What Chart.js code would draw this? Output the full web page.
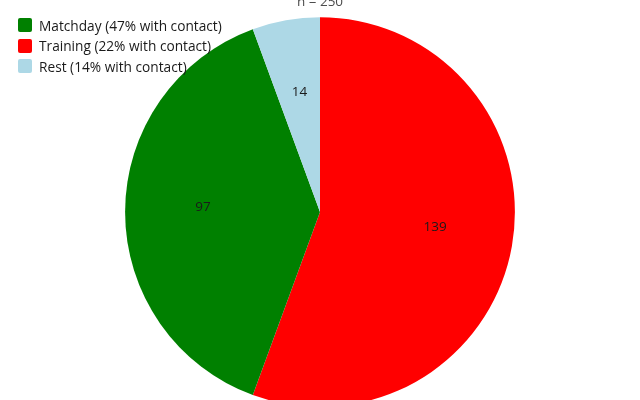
<!DOCTYPE html>
<html>
<head>
<meta charset="utf-8">
<script src="https://cdn.jsdelivr.net/npm/chart.js@4"></script>
<style>
  html, body { margin: 0; padding: 0; background: #fff; }
  #wrap { position: relative; width: 640px; height: 400px; overflow: hidden; font-family: 'Open Sans', sans-serif; }
  #box { position: absolute; left: 0; top: -6px; width: 640px; height: 413px; }
  #legend { position: absolute; left: 18px; top: 15px; font-size: 13.7px; color: #1a1a1a; }
  #legend .row { display: flex; align-items: center; height: 20.5px; }
  #legend .sw { width: 14px; height: 14px; border-radius: 2px; margin-right: 7px; }
</style>
</head>
<body>
<div id="wrap">
  <div id="box"><canvas id="grafico"></canvas></div>
  <div id="legend"></div>
</div>
<script>
// datos (orden de la leyenda)
const categorias = ['Matchday', 'Training', 'Rest']
const conteos = [97, 139, 14]
const pctContacto = [47, 22, 14]
const colores = ['#008000', '#ff0000', '#add8e6']
// orden de las porciones en el gráfico, desde las 12 en sentido horario
const ordenPie = [1, 0, 2]

const total = conteos.reduce((a, b) => a + b, 0)

// leyenda html
const legend = document.getElementById('legend')
categorias.forEach((c, i) => {
  const row = document.createElement('div')
  row.className = 'row'
  row.innerHTML = `<span class="sw" style="background:${colores[i]}"></span>${c} (${pctContacto[i]}% with contact)`
  legend.appendChild(row)
})

// etiquetas dentro de cada porción
const etiquetas = {
  id: 'etiquetas',
  afterDatasetsDraw(chart) {
    const ctx = chart.ctx
    const meta = chart.getDatasetMeta(0)
    ctx.save()
    ctx.font = "13.5px 'Open Sans', sans-serif"
    ctx.fillStyle = '#1a1a1a'
    ctx.textAlign = 'center'
    ctx.textBaseline = 'middle'
    meta.data.forEach((arc, i) => {
      const p = arc.getProps(['x', 'y', 'startAngle', 'endAngle', 'outerRadius'], true)
      const a = (p.startAngle + p.endAngle) / 2
      const r = p.outerRadius * 0.6
      ctx.fillText(String(chart.data.datasets[0].data[i]), p.x + Math.cos(a) * r, p.y + Math.sin(a) * r - 5)
    })
    ctx.restore()
  }
}

Chart.defaults.font.family = "'Open Sans', sans-serif"

new Chart(document.getElementById('grafico'), {
  type: 'pie',
  data: {
    labels: ordenPie.map(i => categorias[i]),
    datasets: [{
      data: ordenPie.map(i => conteos[i]),
      backgroundColor: ordenPie.map(i => colores[i]),
      borderWidth: 0
    }]
  },
  options: {
    responsive: true,
    maintainAspectRatio: false,
    animation: false,
    layout: { padding: 0 },
    plugins: {
      legend: { display: false },
      tooltip: { enabled: false },
      title: {
        display: true,
        text: `n = ${total}`,
        color: '#4d4d4d',
        font: { size: 13.5, weight: 'normal' },
        padding: { top: 0, bottom: 7 }
      }
    }
  },
  plugins: [etiquetas]
})
</script>
</body>
</html>
